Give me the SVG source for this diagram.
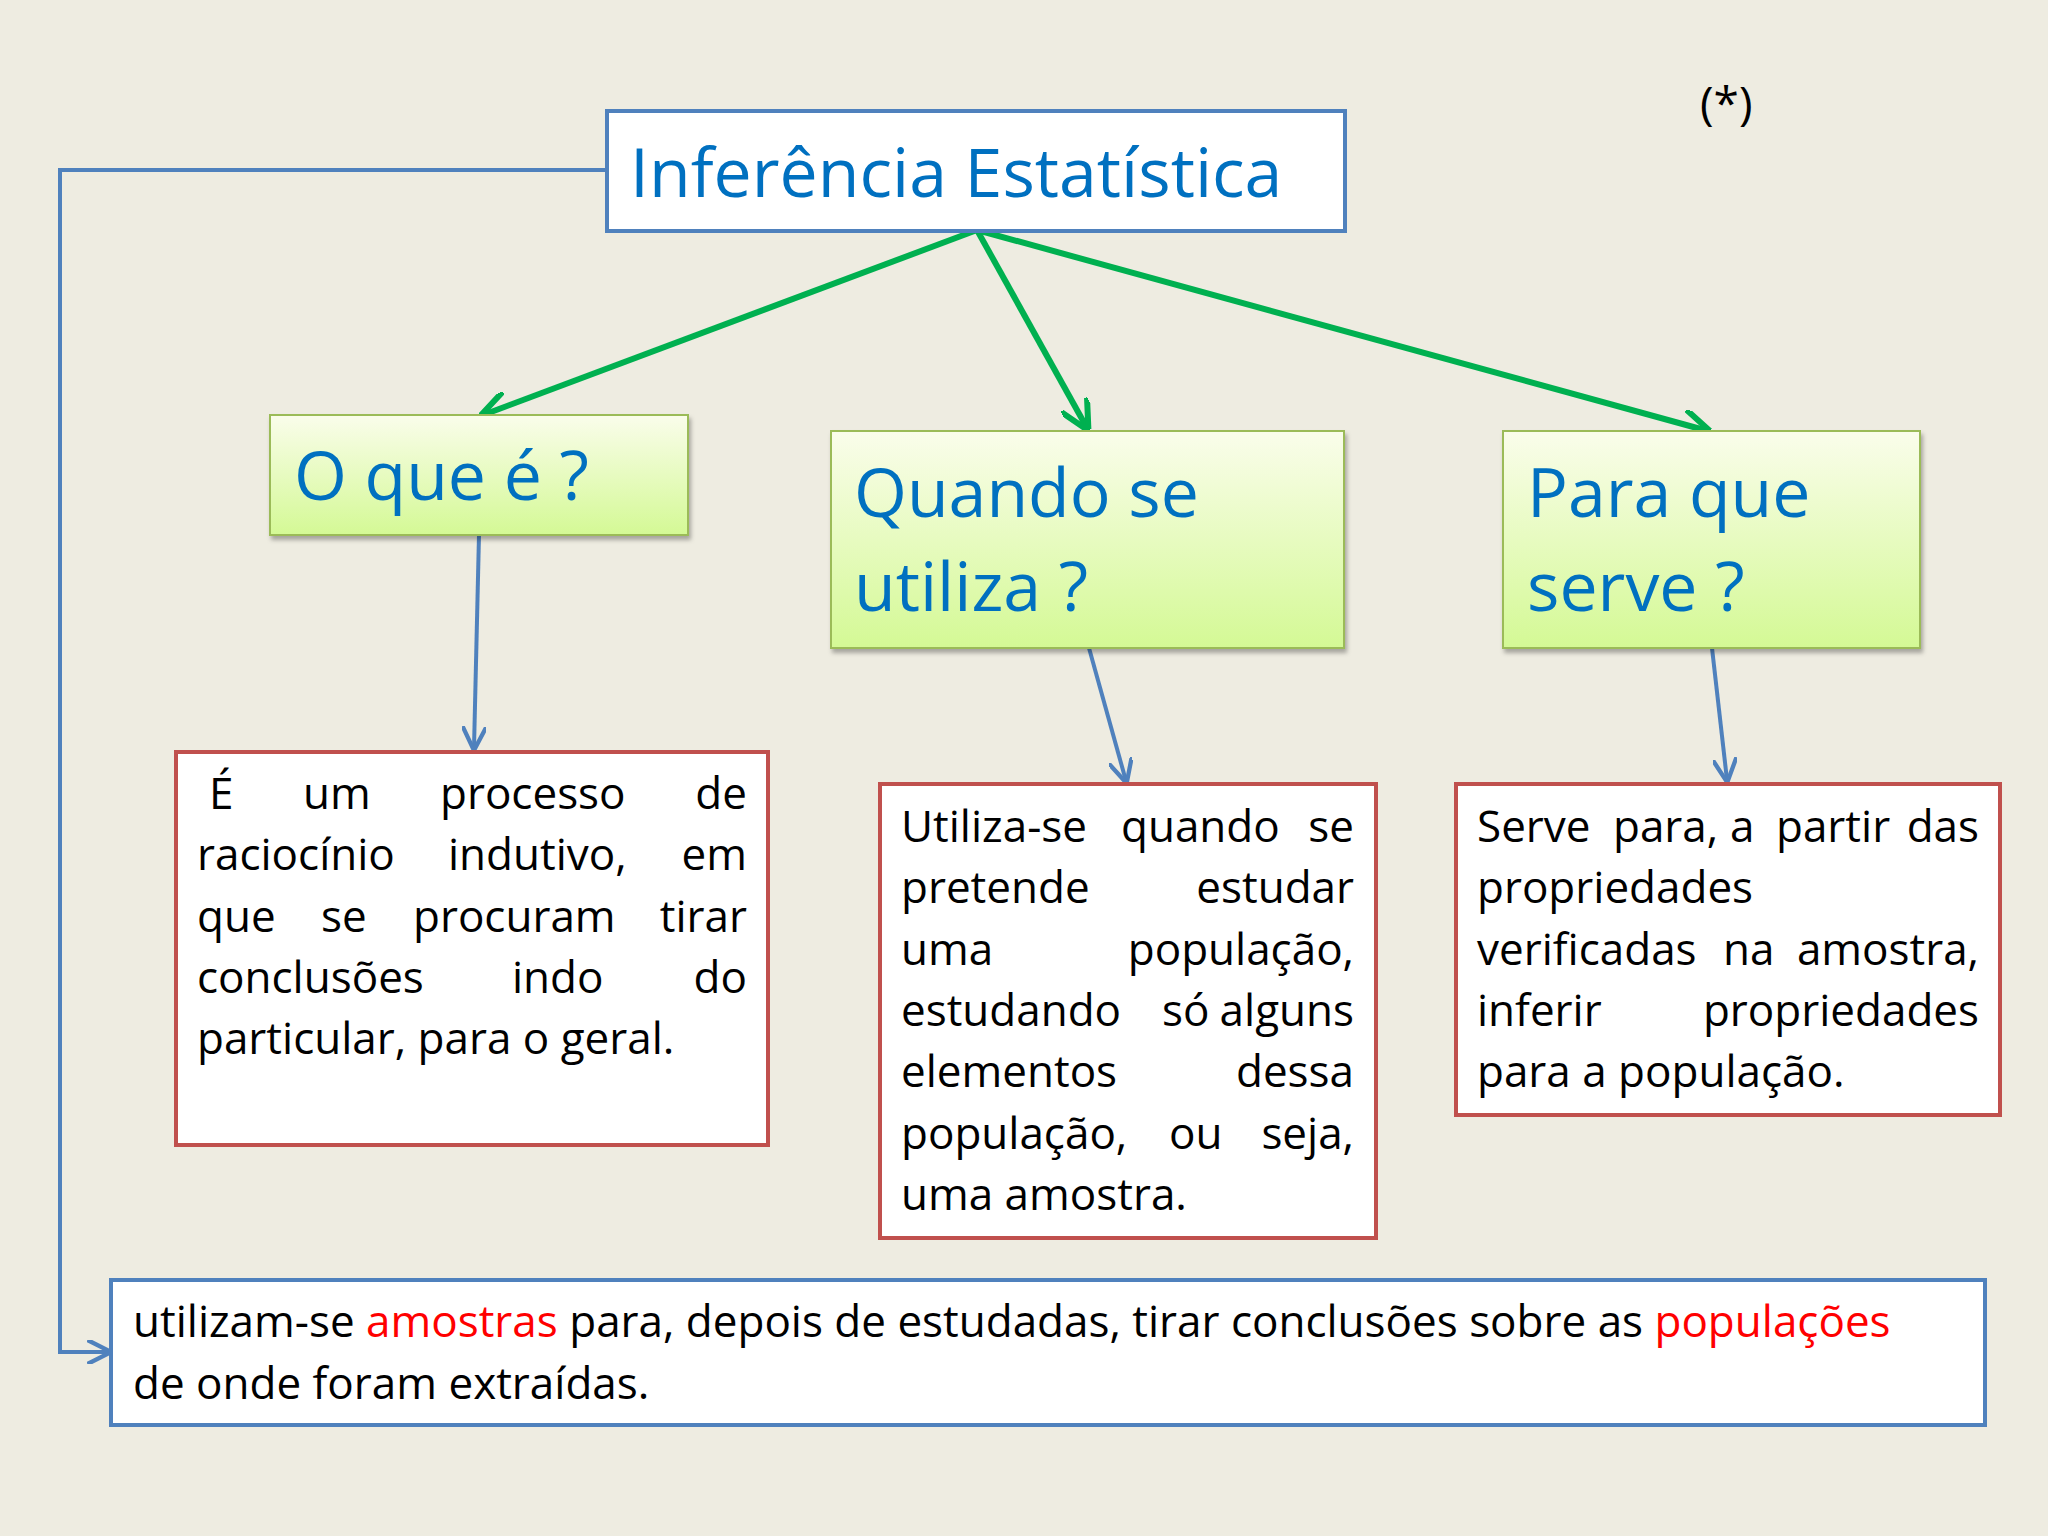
<svg xmlns="http://www.w3.org/2000/svg" width="2048" height="1536" viewBox="0 0 2048 1536">
<defs>
<linearGradient id="g" x1="0" y1="0" x2="0" y2="1"><stop offset="0" stop-color="#fafdeb"/><stop offset="1" stop-color="#d4f995"/></linearGradient>
<marker id="ga" viewBox="0 0 10 10" refX="9" refY="5" markerWidth="5" markerHeight="5" orient="auto"><path d="M0,0 L10,5 L0,10" fill="none" stroke="#00b050" stroke-width="2"/></marker>
<marker id="ba" viewBox="0 0 10 10" refX="9" refY="5" markerWidth="6" markerHeight="6" orient="auto"><path d="M0,0 L10,5 L0,10" fill="none" stroke="#4f81bd" stroke-width="1.8"/></marker>
<filter id="sh"><feDropShadow dx="2" dy="4" stdDeviation="2" flood-color="#000" flood-opacity="0.3"/></filter>
</defs>
<style>
text{font-family:"Open Sans","Noto Sans",sans-serif}
.h{fill:#0070c0;font-size:68px}
.t{fill:#000;font-size:44px}
.e{text-anchor:end}
.r{fill:#ff0000}
.rb{fill:#fff;stroke:#c0504d;stroke-width:4}
.bb{fill:#fff;stroke:#4f81bd;stroke-width:4}
.gb{fill:url(#g);stroke:#9bbb59;stroke-width:2;filter:url(#sh)}
</style>
<rect width="2048" height="1536" fill="#eeece1"/>
<text x="1700" y="120" style="font-size:46px;fill:#000">(*)</text>
<g id="connectors" fill="none">
<g stroke="#00b050" stroke-width="6" marker-end="url(#ga)">
<line x1="977" y1="230" x2="483" y2="415"/>
<line x1="977" y1="230" x2="1087" y2="428"/>
<line x1="977" y1="230" x2="1708" y2="431"/>
</g>
<g stroke="#4f81bd" stroke-width="4" marker-end="url(#ba)">
<line x1="479" y1="535" x2="474" y2="748"/>
<line x1="1089" y1="648" x2="1126" y2="781"/>
<line x1="1712" y1="648" x2="1727" y2="780"/>
<polyline points="607,170 60,170 60,1352 109,1352"/>
</g>
</g>
<g id="title"><rect class="bb" x="607" y="111" width="738" height="120"/><text class="h" x="630" y="197">Inferência Estatística</text></g>
<g id="q1"><rect class="gb" x="270" y="415" width="418" height="120"/><text class="h" x="294" y="500">O que é ?</text></g>
<g id="q2"><rect class="gb" x="831" y="431" width="513" height="217"/><text class="h" x="854" y="517">Quando se</text><text class="h" x="854" y="611">utiliza ?</text></g>
<g id="q3"><rect class="gb" x="1503" y="431" width="417" height="217"/><text class="h" x="1527" y="517">Para que</text><text class="h" x="1527" y="611">serve ?</text></g>
<g id="a1"><rect class="rb" x="176" y="752" width="592" height="393"/>
<text class="t" x="209" y="809">É</text><text class="t" x="303" y="809">um</text><text class="t" x="440" y="809">processo</text><text class="t e" x="747" y="809">de</text>
<text class="t" x="197" y="870">raciocínio</text><text class="t" x="448" y="870">indutivo,</text><text class="t e" x="747" y="870">em</text>
<text class="t" x="197" y="932">que</text><text class="t" x="321" y="932">se</text><text class="t" x="413" y="932">procuram</text><text class="t e" x="747" y="932">tirar</text>
<text class="t" x="197" y="993">conclusões</text><text class="t" x="512" y="993">indo</text><text class="t e" x="747" y="993">do</text>
<text class="t" x="197" y="1054">particular, para o geral.</text></g>
<g id="a2"><rect class="rb" x="880" y="784" width="496" height="454"/>
<text class="t" x="901" y="842">Utiliza-se</text><text class="t" x="1121" y="842">quando</text><text class="t e" x="1354" y="842">se</text>
<text class="t" x="901" y="903">pretende</text><text class="t e" x="1354" y="903">estudar</text>
<text class="t" x="901" y="965">uma</text><text class="t e" x="1354" y="965">população,</text>
<text class="t" x="901" y="1026">estudando</text><text class="t" x="1162" y="1026">só</text><text class="t e" x="1354" y="1026">alguns</text>
<text class="t" x="901" y="1087">elementos</text><text class="t e" x="1354" y="1087">dessa</text>
<text class="t" x="901" y="1149">população,</text><text class="t" x="1169" y="1149">ou</text><text class="t e" x="1354" y="1149">seja,</text>
<text class="t" x="901" y="1210">uma amostra.</text></g>
<g id="a3"><rect class="rb" x="1456" y="784" width="544" height="331"/>
<text class="t" x="1477" y="842">Serve</text><text class="t" x="1613" y="842">para,</text><text class="t" x="1730" y="842">a</text><text class="t" x="1776" y="842">partir</text><text class="t e" x="1979" y="842">das</text>
<text class="t" x="1477" y="903">propriedades</text>
<text class="t" x="1477" y="965">verificadas</text><text class="t" x="1723" y="965">na</text><text class="t e" x="1979" y="965">amostra,</text>
<text class="t" x="1477" y="1026">inferir</text><text class="t e" x="1979" y="1026">propriedades</text>
<text class="t" x="1477" y="1087">para a população.</text></g>
<g id="bottom"><rect class="bb" x="111" y="1280" width="1874" height="145"/>
<text class="t" x="133" y="1337">utilizam-se <tspan class="r">amostras</tspan> para, depois de estudadas, tirar conclusões sobre as <tspan class="r">populações</tspan></text>
<text class="t" x="133" y="1399">de onde foram extraídas.</text></g>
</svg>
